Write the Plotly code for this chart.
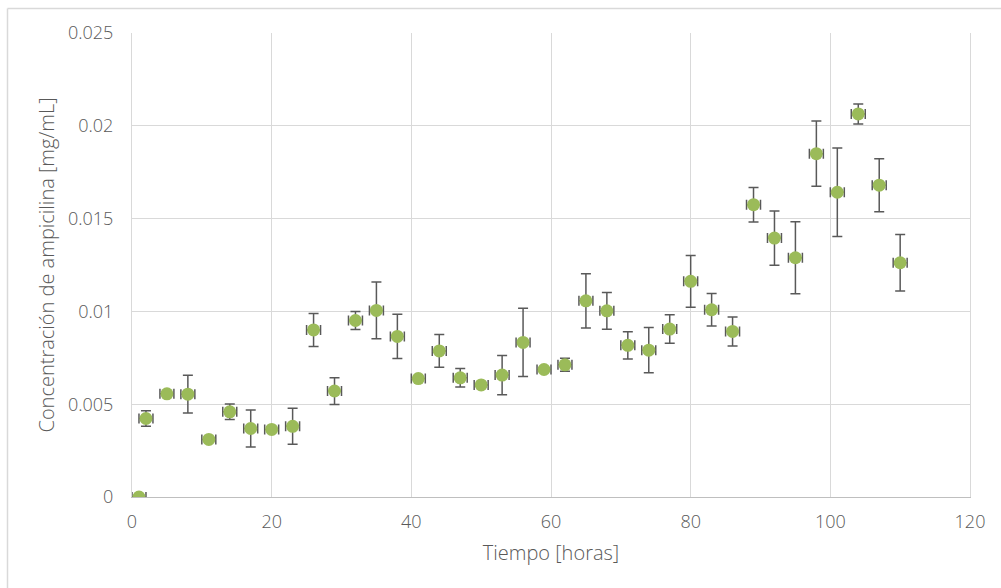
import plotly.graph_objects as go

tiempo = [1, 2, 5, 8, 11, 14, 17, 20, 23, 26, 29, 32, 35, 38, 41, 44, 47, 50, 53,
          56, 59, 62, 65, 68, 71, 74, 77, 80, 83, 86, 89, 92, 95, 98, 101, 104, 107, 110]
concentracion = [0, 0.00423, 0.00556, 0.00554, 0.0031, 0.00459, 0.00369, 0.00364,
                 0.00381, 0.009, 0.00571, 0.00951, 0.01005, 0.00865, 0.00638, 0.00787,
                 0.00642, 0.00604, 0.00657, 0.00833, 0.00687, 0.00712, 0.01057, 0.01003,
                 0.00817, 0.00791, 0.00905, 0.01162, 0.01009, 0.00892, 0.01575, 0.01395,
                 0.01289, 0.0185, 0.01642, 0.02064, 0.0168, 0.01262]
error_y = [0, 0.00042, 0.0001, 0.00102, 0.0001, 0.00042, 0.001, 0.0001, 0.00097,
           0.00089, 0.00072, 0.00049, 0.00153, 0.00119, 0.0001, 0.00088, 0.0005,
           0.0001, 0.00106, 0.00184, 0.0001, 0.00035, 0.00146, 0.00099, 0.00074,
           0.00122, 0.00077, 0.00139, 0.00087, 0.00078, 0.00093, 0.00146, 0.00194,
           0.00176, 0.00238, 0.00054, 0.00143, 0.00152]
error_x = 1.0

x_ticks = [0, 20, 40, 60, 80, 100, 120]
y_ticks = [0, 0.005, 0.01, 0.015, 0.02, 0.025]
y_tick_labels = ["0", "0.005", "0.01", "0.015", "0.02", "0.025"]

TEXT = "#595959"
GRID = "#d9d9d9"
FONT = "Open Sans"
FS = 18

fig = go.Figure()
fig.add_trace(go.Scatter(
    x=tiempo, y=concentracion, mode="markers",
    marker=dict(color="#9bbb59", size=13, line=dict(width=0)),
    error_y=dict(type="data", array=error_y, visible=True, color="#595959",
                 thickness=1.5, width=5),
    error_x=dict(type="constant", value=error_x, visible=True, color="#595959",
                 thickness=1.5, width=5),
    showlegend=False,
))

L, R, T, B = 132, 31, 33, 91
W, H = 1001, 588
pw, ph = W - L - R, H - T - B


def px(x):
    return (x - L) / pw


def py(y):
    return (H - B - y) / ph


tf = dict(size=FS, color=TEXT, family=FONT, weight=300)
ttf = dict(size=20, color=TEXT, family=FONT, weight=300)

fig.update_layout(
    width=W, height=H,
    margin=dict(l=L, r=R, t=T, b=B),
    paper_bgcolor="white", plot_bgcolor="white",
    font=dict(family=FONT, color=TEXT, size=FS),
    xaxis=dict(
        range=[0, 120], tickvals=x_ticks, showgrid=True, gridcolor=GRID, gridwidth=1,
        showline=True, linecolor="#bfbfbf", linewidth=1, zeroline=False,
        ticks="", ticklabelstandoff=8,
        tickfont=tf,
        title=dict(text="Tiempo [horas]", font=ttf, standoff=14),
    ),
    yaxis=dict(
        range=[0, 0.025], tickvals=y_ticks, ticktext=y_tick_labels, showgrid=True,
        gridcolor=GRID, gridwidth=1, showline=True, linecolor=GRID, mirror=True,
        zeroline=False, ticks="", ticklabelstandoff=14,
        tickfont=tf,
        title=dict(text="Concentración de ampicilina [mg/mL]", font=ttf, standoff=8),
    ),
    shapes=[
        dict(type="line", xref="paper", yref="paper", x0=px(7.5), x1=px(1005),
             y0=py(8.5), y1=py(8.5), line=dict(color=GRID, width=1.5)),
        dict(type="line", xref="paper", yref="paper", x0=px(7.5), x1=px(7.5),
             y0=py(8.5), y1=py(595), line=dict(color=GRID, width=1.5)),
    ],
)

fig.write_html("out.html")
